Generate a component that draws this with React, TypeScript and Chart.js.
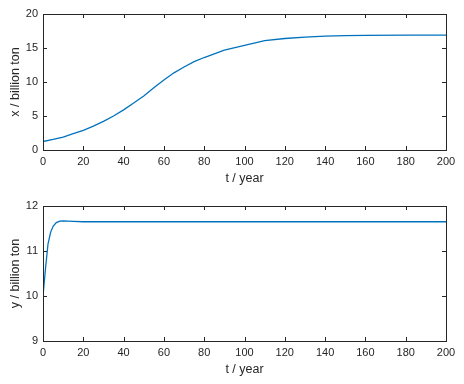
import React, { useEffect, useRef } from "react";
import { Chart, registerables } from "chart.js";

Chart.register(...registerables);

const tTop = [0, 5, 10, 15, 20, 25, 30, 35, 40, 45, 50, 55, 60, 65, 70, 75, 80, 90, 100, 110, 120, 130, 140, 150, 160, 180, 200];
const xValues = [1.25, 1.55, 1.9, 2.4, 2.9, 3.5, 4.2, 5.0, 5.9, 6.9, 7.95, 9.15, 10.3, 11.35, 12.2, 13.0, 13.6, 14.7, 15.4, 16.1, 16.4, 16.6, 16.75, 16.82, 16.86, 16.9, 16.9];

const tBottom = [0, 1.3, 2.5, 3.8, 5, 6.6, 8.3, 10, 12.5, 15, 20, 40, 60, 80, 100, 120, 140, 160, 180, 200];
const yValues = [10.0, 10.64, 11.16, 11.42, 11.55, 11.63, 11.665, 11.67, 11.665, 11.66, 11.65, 11.65, 11.65, 11.65, 11.65, 11.65, 11.65, 11.65, 11.65, 11.65];

const tTicks = [0, 20, 40, 60, 80, 100, 120, 140, 160, 180, 200];
const xTicksTop = [0, 5, 10, 15, 20];
const yTicksBottom = [9, 10, 11, 12];

const AXIS = "#262626";
const LINE = "#0072BD";
const FONT = "'Liberation Sans', Arial, Helvetica, sans-serif";

const boxPlugin = {
  id: "matlabBox",
  afterDraw(chart: any) {
    const { ctx, chartArea, scales } = chart;
    const { left, right, top, bottom } = chartArea;
    const len = 4;
    ctx.save();
    ctx.strokeStyle = AXIS;
    ctx.lineWidth = 1;
    ctx.beginPath();
    const xs = scales.x;
    xs.ticks.forEach((_t: any, i: number) => {
      const px = Math.round(xs.getPixelForTick(i)) + 0.5;
      ctx.moveTo(px, bottom);
      ctx.lineTo(px, bottom - len);
      ctx.moveTo(px, top);
      ctx.lineTo(px, top + len);
    });
    const ys = scales.y;
    ys.ticks.forEach((_t: any, i: number) => {
      const py = Math.round(ys.getPixelForTick(i)) + 0.5;
      ctx.moveTo(left, py);
      ctx.lineTo(left + len, py);
      ctx.moveTo(right, py);
      ctx.lineTo(right - len, py);
    });
    ctx.stroke();
    ctx.strokeRect(Math.round(left) + 0.5, Math.round(top) + 0.5, Math.round(right - left), Math.round(bottom - top));
    ctx.restore();
  },
};

function makeConfig(
  t: number[],
  v: number[],
  yTicks: number[],
  yTitle: string,
  xAxisHeight: number,
  xTitlePadBottom: number
): any {
  const ymin = yTicks[0];
  const ymax = yTicks[yTicks.length - 1];
  return {
    type: "line",
    data: {
      datasets: [
        {
          data: t.map((tt, i) => ({ x: tt, y: v[i] })),
          borderColor: LINE,
          borderWidth: 1.3,
          pointRadius: 0,
          tension: 0,
          fill: false,
        },
      ],
    },
    options: {
      animation: false,
      responsive: false,
      maintainAspectRatio: false,
      layout: { padding: { top: 14, right: 18, left: 0, bottom: 0 } },
      plugins: { legend: { display: false }, tooltip: { enabled: false } },
      scales: {
        x: {
          type: "linear",
          min: 0,
          max: 200,
          afterBuildTicks: (s: any) => {
            s.ticks = tTicks.map((value) => ({ value }));
          },
          afterFit: (s: any) => {
            s.height = xAxisHeight;
          },
          grid: { display: false, drawTicks: false },
          border: { display: false },
          ticks: {
            color: AXIS,
            font: { family: FONT, size: 11 },
            padding: 5,
            maxRotation: 0,
            autoSkip: false,
          },
          title: {
            display: true,
            text: "t / year",
            color: AXIS,
            font: { family: FONT, size: 12.5 },
            padding: { top: 0, bottom: xTitlePadBottom },
          },
        },
        y: {
          type: "linear",
          min: ymin,
          max: ymax,
          afterBuildTicks: (s: any) => {
            s.ticks = yTicks.map((value) => ({ value }));
          },
          afterFit: (s: any) => {
            s.width = 43;
          },
          grid: { display: false, drawTicks: false },
          border: { display: false },
          ticks: {
            color: AXIS,
            font: { family: FONT, size: 11 },
            padding: 5,
            autoSkip: false,
          },
          title: {
            display: true,
            text: yTitle,
            color: AXIS,
            font: { family: FONT, size: 12.5 },
            padding: { top: 8.5, bottom: 0 },
          },
        },
      },
    },
    plugins: [boxPlugin],
  };
}

export default function App() {
  const topRef = useRef<HTMLCanvasElement>(null);
  const botRef = useRef<HTMLCanvasElement>(null);

  useEffect(() => {
    const c1 = new Chart(topRef.current as HTMLCanvasElement, makeConfig(tTop, xValues, xTicksTop, "x / billion ton", 42, 5.5));
    const c2 = new Chart(botRef.current as HTMLCanvasElement, makeConfig(tBottom, yValues, yTicksBottom, "y / billion ton", 43, 6.5));
    return () => {
      c1.destroy();
      c2.destroy();
    };
  }, []);

  return (
    <div style={{ position: "absolute", left: 0, top: 0, width: 464, height: 384, background: "#fff" }}>
      <canvas ref={topRef} width={464} height={192} style={{ position: "absolute", left: 0, top: 0, width: 464, height: 192 }} />
      <canvas ref={botRef} width={464} height={192} style={{ position: "absolute", left: 0, top: 192, width: 464, height: 192 }} />
    </div>
  );
}
